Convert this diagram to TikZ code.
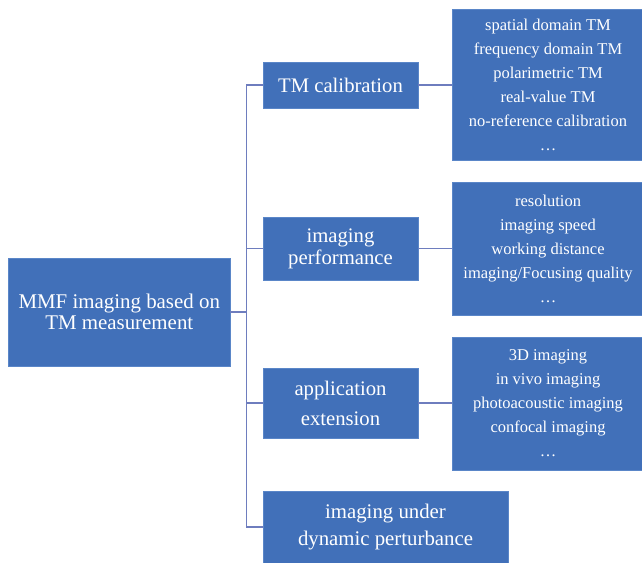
\documentclass[tikz,border=0pt]{standalone}
\usepackage{fontspec}
\setmainfont{Liberation Serif}
\begin{document}
\begin{tikzpicture}[x=1pt,y=-1pt,
  box/.style={rectangle, fill=boxblue, draw=boxedge, line width=0.6pt, text=white, align=center, inner sep=0pt, anchor=center},
  midfont/.style={font=\fontsize{20.7}{22}\selectfont},
  rightfont/.style={font=\fontsize{16.5}{24}\selectfont},
  conn/.style={draw=linecol, line width=1.5pt}]
\definecolor{boxblue}{HTML}{4170B9}
\definecolor{boxedge}{HTML}{5A86C8}
\definecolor{linecol}{HTML}{6E7DBE}
\useasboundingbox (0,0) rectangle (642,562);
\fill[white] (0,0) rectangle (642,562);

\node[box, minimum width=221.5pt, minimum height=108pt, font=\fontsize{20.9}{21}\selectfont] (main) at (119.25,312) {MMF imaging based on\\TM measurement};

\node[box, midfont, minimum width=155pt, minimum height=46pt] (tm) at (340.5,85) {TM calibration};
\node[box, minimum width=155pt, minimum height=63pt, font=\fontsize{20.7}{22}\selectfont] (perf) at (340.5,248.5) {imaging\\performance};
\node[box, minimum width=155pt, minimum height=70pt, font=\fontsize{20.7}{30}\selectfont] (app) at (340.5,403) {application\\extension};
\node[box, minimum width=245pt, minimum height=72pt, font=\fontsize{20.8}{27}\selectfont] (dyn) at (385.5,527) {imaging under\\dynamic perturbance};

\node[box, rightfont, minimum width=192pt, minimum height=151pt] (r1) at (548,84.5) {spatial domain TM\\frequency domain TM\\polarimetric TM\\real-value TM\\no-reference calibration\\\dots};
\node[box, rightfont, minimum width=192pt, minimum height=133pt] (r2) at (548,248.5) {resolution\\imaging speed\\working distance\\imaging/Focusing quality\\\dots};
\node[box, rightfont, minimum width=192pt, minimum height=133pt] (r3) at (548,403.5) {3D imaging\\in vivo imaging\\photoacoustic imaging\\confocal imaging\\\dots};

\coordinate (trunk) at (246.5,312);
\draw[conn] (main.east) -- (main.east -| trunk);
\draw[conn] (tm.west) -- (tm.west -| trunk) -- (dyn.west -| trunk) -- (dyn.west);
\draw[conn] (perf.west) -- (perf.west -| trunk);
\draw[conn] (app.west) -- (app.west -| trunk);
\draw[conn] (tm.east) -- (tm.east -| r1.west);
\draw[conn] (perf.east) -- (perf.east -| r2.west);
\draw[conn] (app.east) -- (app.east -| r3.west);
\end{tikzpicture}
\end{document}
